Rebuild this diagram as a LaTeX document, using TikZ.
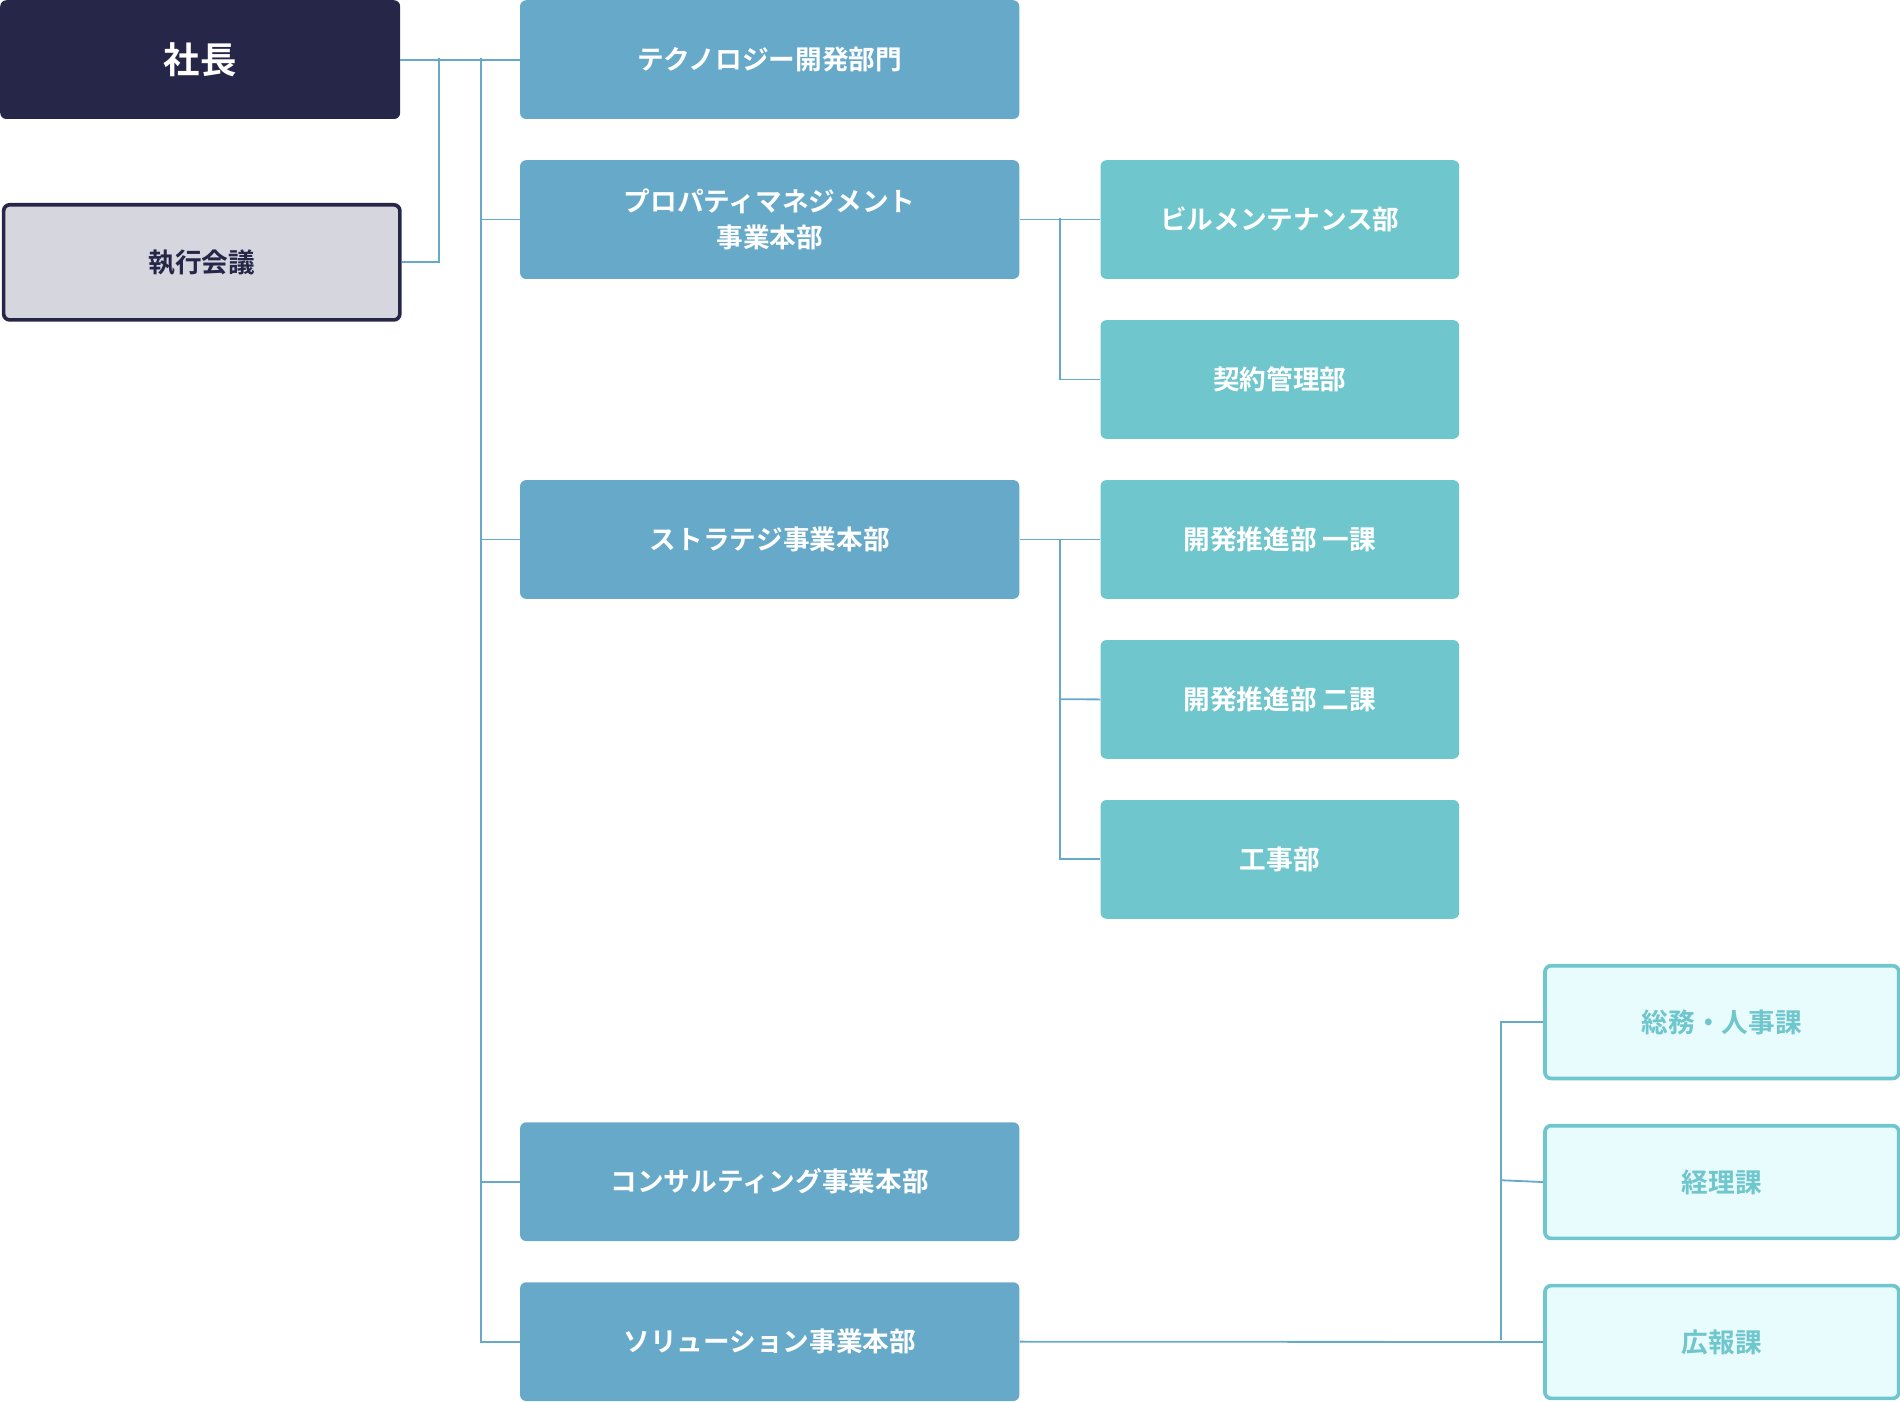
\documentclass[tikz,border=0pt]{standalone}
\usepackage{fontspec}
\setmainfont{Noto Sans CJK JP}[BoldFont={Noto Sans CJK JP Bold}]
\begin{document}
\begin{tikzpicture}[x=1pt,y=-1pt,
 base/.style={rounded corners=5pt,align=center,font=\fontsize{22}{30}\selectfont\bfseries,inner sep=0pt},
 ceo/.style={base,fill={rgb,255:red,38;green,38;blue,73},text=white,font=\fontsize{30}{36}\selectfont\bfseries},
 exec/.style={base,fill={rgb,255:red,214;green,214;blue,222},draw={rgb,255:red,38;green,38;blue,73},line width=3pt,text={rgb,255:red,38;green,38;blue,73}},
 div/.style={base,fill={rgb,255:red,103;green,169;blue,201},text=white},
 dep/.style={base,fill={rgb,255:red,111;green,198;blue,205},text=white},
 sec/.style={base,fill={rgb,255:red,232;green,251;blue,253},draw={rgb,255:red,111;green,198;blue,205},line width=3pt,text={rgb,255:red,111;green,198;blue,205}},
 ln/.style={draw={rgb,255:red,103;green,169;blue,201},line width=1.5pt}]
\useasboundingbox (0,0) rectangle (1568,1157);
\newcommand{\bx}[6]{\node[#1,minimum width=#4pt,minimum height=#5pt,anchor=north west] (#6) at (#2,#3) {};}
\bx{ceo}{0}{0}{330}{98}{ceo}
\bx{exec}{1.5}{167.5}{327}{95}{exe}
\bx{div}{429}{0}{412}{98}{d1}
\bx{div}{429}{132}{412}{98}{d2}
\bx{div}{429}{396}{412}{98}{d3}
\bx{div}{429}{926}{412}{98}{d4}
\bx{div}{429}{1058}{412}{98}{d5}
\bx{dep}{908}{132}{296}{98}{p1}
\bx{dep}{908}{264}{296}{98}{p2}
\bx{dep}{908}{396}{296}{98}{s1}
\bx{dep}{908}{528}{296}{98}{s2}
\bx{dep}{908}{660}{296}{98}{s3}
\bx{sec}{1273.5}{795.5}{292}{93}{k1}
\bx{sec}{1273.5}{927.5}{292}{93}{k2}
\bx{sec}{1273.5}{1059.5}{292}{93}{k3}
\node[ceo] at (ceo) {社長};
\node[exec,draw=none,fill=none] at (exe) {執行会議};
\node[div] at (d1) {テクノロジー開発部門};
\node[div] at (d2) {プロパティマネジメント\\事業本部};
\node[div] at (d3) {ストラテジ事業本部};
\node[div] at (d4) {コンサルティング事業本部};
\node[div] at (d5) {ソリューション事業本部};
\node[dep] at (p1) {ビルメンテナンス部};
\node[dep] at (p2) {契約管理部};
\node[dep] at (s1) {開発推進部 一課};
\node[dep] at (s2) {開発推進部 二課};
\node[dep] at (s3) {工事部};
\node[sec,draw=none,fill=none] at (k1) {総務・人事課};
\node[sec,draw=none,fill=none] at (k2) {経理課};
\node[sec,draw=none,fill=none] at (k3) {広報課};
\coordinate (a) at (362,48);
\coordinate (v) at (397,48);
\draw[ln] (ceo.east) -- (d1.west);
\draw[ln] (a) |- (exe.east);
\draw[ln] (v) |- (d5.west);
\foreach \n in {d2,d3,d4} \draw[ln] (d2.west -| v) ++(0,0) (v |- \n.west) -- (\n.west);
\draw[ln] (d2.east) -- (p1.west);
\draw[ln] (875,180) |- (p2.west);
\draw[ln] (d3.east) -- (s1.west);
\draw[ln] (875,445) |- (s3.west);
\draw[ln] (875,577) -- (s2.west);
\draw[ln] (d5.east) -- (k3.west);
\draw[ln] (1239,1106) |- (k1.west);
\draw[ln] (1239,974) -- (k2.west);
\end{tikzpicture}
\end{document}
